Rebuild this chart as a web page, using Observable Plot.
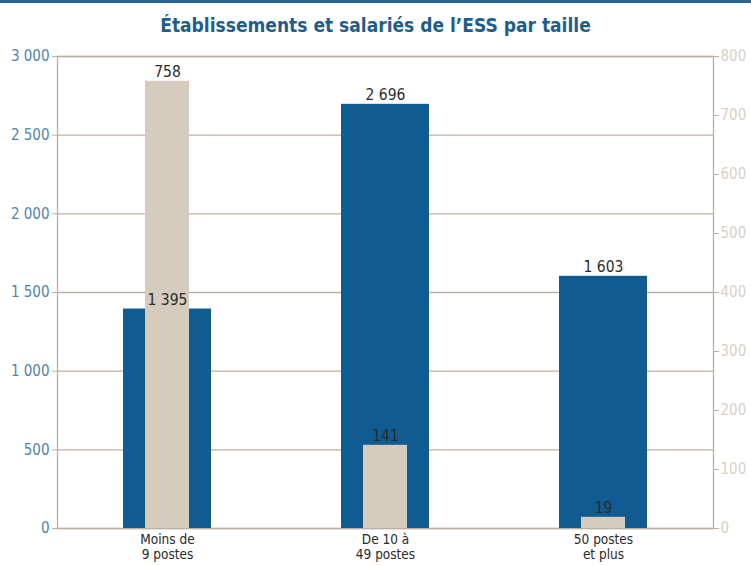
<!DOCTYPE html>
<html>
<head>
<meta charset="utf-8">
<script src="https://cdn.jsdelivr.net/npm/d3@7"></script>
<script src="https://cdn.jsdelivr.net/npm/@observablehq/plot@0.6"></script>
<style>
  html, body { margin: 0; padding: 0; background: #fff; }
  #wrap { width: 751px; height: 566px; overflow: hidden; position: relative; }
  #title { border-top: 3px solid #2a6796; height: 37px; box-sizing: border-box; text-align: center;
    font-family: "DejaVu Sans Condensed", "Liberation Sans Narrow", sans-serif; font-weight: bold;
    font-size: 19px; color: #1f5e8c; line-height: 45px; }
  svg { display: block; }
</style>
</head>
<body>
<div id="wrap">
  <div id="title">Établissements et salariés de l’ESS par taille</div>
  <div id="chart"></div>
</div>
<script>
const categories = ["Moins de\n9 postes", "De 10 à\n49 postes", "50 postes\net plus"];
const etablissements = [1395, 2696, 1603];   // left axis (blue)
const salaries = [758, 141, 19];             // right axis (beige)
const leftTicks = [0, 500, 1000, 1500, 2000, 2500, 3000];
const rightTicks = [0, 100, 200, 300, 400, 500, 600, 700, 800];

const leftMax = 3000, rightMax = 800;
const ratio = leftMax / rightMax;
const fmtSp = d => d3.format(",")(d).replace(/,/g, " ");

const data = categories.map((c, i) => ({cat: c, etab: etablissements[i], sal: salaries[i], salScaled: salaries[i] * ratio}));

const blue = "#0f5b92";
const beige = "#d5ccbd";
const grid = "#bcb0a4";
const font = "'DejaVu Sans Condensed', 'Liberation Sans Narrow', sans-serif";

const chart = Plot.plot({
  width: 751,
  height: 529,
  marginLeft: 57,
  marginRight: 38,
  marginTop: 19,
  marginBottom: 38,
  style: {fontFamily: font, fontSize: "15px", background: "transparent"},
  x: {domain: categories, padding: 0, axis: null},
  y: {domain: [0, leftMax], axis: null},
  marks: [
    Plot.gridY(leftTicks, {stroke: grid, strokeOpacity: 1, strokeWidth: 1.3}),
    Plot.frame({stroke: grid, strokeWidth: 1.3}),
    Plot.barY(data, {x: "cat", y: "etab", fill: blue, insetLeft: 65, insetRight: 65}),
    Plot.barY(data, {x: "cat", y: "salScaled", fill: beige, insetLeft: 87, insetRight: 87}),
    Plot.axisY({ticks: leftTicks, anchor: "left", tickFormat: fmtSp, tickSize: 5, tickPadding: 3, stroke: grid, fill: "#4f84ad", fontSize: 15}),
    Plot.axisY({ticks: rightTicks.map(v => v * ratio), anchor: "right", tickFormat: d => fmtSp(Math.round(d / ratio)), tickSize: 5, tickPadding: 2, stroke: grid, fill: "#d9d0c5", fontSize: 15}),
    Plot.text(data, {x: "cat", frameAnchor: "bottom", text: "cat", lineAnchor: "top", dy: 5, fill: "#2a2a2a", fontSize: 13.5, lineHeight: 1.12}),
    Plot.text(data, {x: "cat", y: "etab", text: d => fmtSp(d.etab), lineAnchor: "bottom", dy: -4, fill: "#2b2b2b", fontSize: 15.5}),
    Plot.text(data, {x: "cat", y: "salScaled", text: d => fmtSp(d.sal), lineAnchor: "bottom", dy: -4, fill: "#2b2b2b", fontSize: 15.5})
  ]
});
document.getElementById("chart").appendChild(chart);
</script>
</body>
</html>
